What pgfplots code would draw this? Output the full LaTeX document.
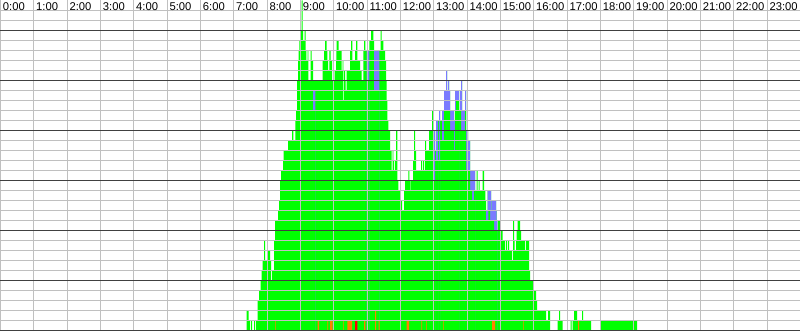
\documentclass[border=0pt]{standalone}
\usepackage{pgfplots}
\pgfplotsset{compat=1.18}
\usepackage{pgfplotstable}
\usepackage{fontspec}
\setmainfont{Liberation Sans}
\definecolor{occgreen}{RGB}{0,255,0}
\definecolor{occblue}{RGB}{122,122,255}
\definecolor{occorange}{RGB}{255,128,0}
\definecolor{occred}{RGB}{255,0,0}
\definecolor{gridgray}{RGB}{192,192,192}
\definecolor{griddark}{RGB}{64,64,64}
% px = horizontal position of the original 800 px wide chart (33.33 px per hour)
% c = total height (rows occupied), from px until the next entry
\pgfplotstableread{
px c
245 0
246.7 2
248.7 1
250 0
251 1
252 0
254 1
255 0
256 1
257.7 3
259 4
260.7 5
261.7 6
262.7 7
264 9
265 7
268 8
270 7
271 5
272 6
274 9
275 11
278 12
279 13
280 15
281 16
283 17
283.7 18
288 19
292 20
293.3 19
295.3 21
296 22
297 25
298 27
298.5 28
299.3 29
300.7 30
301.7 33
302.7 30
303 29
304.7 30
305.7 28
306.3 27
307.7 28
308.3 25
310.7 28
311.7 27
313 25
322.7 27
324 28
325 29
326.7 28
327.3 27
328 26
329.3 28
330.7 27
332 25
334.7 26
336 27
336.3 28
336.7 29
338.7 28
341.7 26
342.7 27
343.3 23
344 26
345 25
345.7 24
346.7 26
350 28
351 29
352.3 27
355 28
356 29
357.3 27
360 26
361.7 25
363.3 28
364 29
365.3 28
369.3 29
371 30
373.3 29
374 28
380.7 30
381.7 29
383.3 28
385 27
386 25
386.7 23
387.3 21
388.3 20
390 18
391.7 16
392.7 18
393.3 17
394 16
395 17
396 20
397.3 15
398.3 14
400 13
402 12
404 14
405 15
408.3 16
409.3 15
410 14
410.7 15
413 17
414 20
415 18
416 16
421 17
422 16
423 17
424 16
425 19
426 18
429 20
432 22
433 20
435 18
436 21
439 22
440 21
442 22
444 24
446 26
447 24
448 25
449 24
450 22
454 21
455 24
459 22
460 24
461 25
462 22
465 24
466 20
468 19
470 16
475 14
476.7 16
477.7 14
478.7 15
479.7 14
482.7 16
484 14
485.3 13
486 12
487.7 14
491 12
491.7 13
496 12
496.7 11
497.3 10
498 11
500 10
502.7 9
505 8
506 9
507 8
508 9
509 8
512 7
513 11
514 9
514.7 8
516 9
516.7 10
517.7 11
520 10
521 9
525 8
526 9
529 6
530 5
533.3 4
536 3
537 2
546 1
548 2
550 0
557.7 1
559 2
560 1
562.7 0
570.7 1
571.7 0
572.7 1
574 2
577 1
582 2
583 1
591 0
600.7 1
637 0
640 0
}\totaltable
% blue segment from a to b
\pgfplotstableread{
px b a
245 0 0
313 24 22
315.3 0 0
366.7 28 25
369.3 0 0
374 28 24
379.3 0 0
433 20 15
435 0 0
436 21 17
438 0 0
439 22 17
440 0 0
442 22 19
444 24 22
446 26 22
447 24 22
448 25 22
449 24 22
450 22 20
454 21 18
455 24 22
456 24 23
459 0 0
460 24 22
461 25 20
462 22 20
465 24 22
466 20 16
468 19 16
470 16 14
472 16 13
474 16 14
475 0 0
486 12 11
487.7 14 11
488.3 14 12
490 14 11
491 12 11
491.7 13 11
494 13 10
496 12 10
496.7 11 10
497.3 0 0
640 0 0
}\bluetable
\pgfplotstableread{
px o
245 0
275 1
275.7 0
317.7 1
319 0
327.3 1
328 0
330 1
332.7 0
343 1
343.7 0
347.3 1
352 0
364 1
365.3 0
375 2
376 0
378.7 1
379.5 0
406.7 1
409 0
421.3 1
422 0
426 1
426.7 0
443 1
443.7 0
492 1
495 0
523 1
523.7 0
578 1
579 0
640 0
}\orangetable
\pgfplotstableread{
px r
245 0
355 1
357.3 0
640 0
}\redtable
\begin{document}
\begin{tikzpicture}
\begin{axis}[
  name=ax,
  scale only axis,
  width=20cm, height=8.275cm,
  xmin=-0.9, xmax=1439.1,
  ymin=-0.06, ymax=33.04,
  axis on top,
  axis line style={draw=none},
  xtick={0,60,...,1380},
  xticklabels={0:00,1:00,2:00,3:00,4:00,5:00,6:00,7:00,8:00,9:00,10:00,11:00,12:00,13:00,14:00,15:00,16:00,17:00,18:00,19:00,20:00,21:00,22:00,23:00},
  xticklabel pos=upper,
  xticklabel style={anchor=north west, inner sep=0pt, xshift=1.5pt, yshift=-1.6pt, font=\fontsize{8}{9}\selectfont},
  minor xtick={0,60,...,1380},
  xmajorgrids=false, xminorgrids=true,
  ytick={0,5,...,30},
  yticklabels={},
  minor ytick={1,2,...,32},
  ymajorgrids=true, yminorgrids=true,
  major tick length=0pt, minor tick length=0pt,
  minor grid style={draw=gridgray, line width=0.75pt},
  major grid style={draw=griddark, line width=0.75pt},
]
\addplot[const plot, fill=occgreen, draw=none] table[x expr=(\thisrow{px}-0.5)*1.8, y=c] {\totaltable} \closedcycle;
\addplot[const plot, fill=occblue, draw=none] table[x expr=(\thisrow{px}-0.5)*1.8, y=b] {\bluetable} \closedcycle;
\addplot[const plot, fill=occgreen, draw=none] table[x expr=(\thisrow{px}-0.5)*1.8, y=a] {\bluetable} \closedcycle;
\addplot[const plot, fill=occorange, draw=none] table[x expr=(\thisrow{px}-0.5)*1.8, y=o] {\orangetable} \closedcycle;
\addplot[const plot, fill=occred, draw=none] table[x expr=(\thisrow{px}-0.5)*1.8, y=r] {\redtable} \closedcycle;
\end{axis}
\pgfresetboundingbox
\path (ax.south west) rectangle (ax.north east);
\end{tikzpicture}
\end{document}
